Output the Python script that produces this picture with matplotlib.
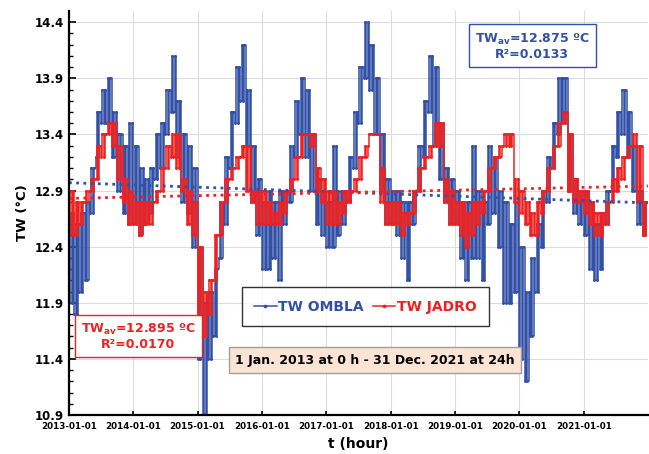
import matplotlib
matplotlib.use('Agg')
import matplotlib.pyplot as plt
import matplotlib.dates as mdates
import numpy as np
import pandas as pd

# monthly low / high readings (Jan 2013 .. Dec 2021), deg C
ombla_lo = [11.9, 11.8, 12.0, 12.1, 12.7, 13.2, 13.5, 13.5, 13.2, 12.9, 12.7, 12.6,
            12.6, 12.5, 12.6, 12.7, 13.0, 13.1, 13.4, 13.6, 13.2, 12.8, 12.7, 12.4,
            11.4, 10.9, 11.4, 11.6, 12.3, 12.6, 13.1, 13.5, 13.7, 13.3, 12.8, 12.5,
            12.2, 12.2, 12.3, 12.1, 12.6, 12.8, 13.2, 13.4, 13.2, 12.9, 12.6, 12.5,
            12.4, 12.4, 12.5, 12.6, 12.8, 13.1, 13.5, 13.9, 13.8, 13.4, 12.9, 12.6,
            12.6, 12.5, 12.3, 12.1, 12.6, 12.9, 13.2, 13.6, 13.3, 13.0, 12.8, 12.6,
            12.6, 12.3, 12.1, 12.3, 12.3, 12.1, 12.6, 12.7, 12.4, 11.9, 11.9, 12.0,
            11.4, 11.2, 11.6, 12.0, 12.4, 12.8, 13.1, 13.4, 13.5, 12.9, 12.7, 12.6,
            12.5, 12.2, 12.1, 12.2, 12.6, 12.9, 13.2, 13.4, 13.2, 12.9, 12.6, 12.5]
ombla_hi = [12.7, 12.6, 12.7, 12.8, 13.1, 13.6, 13.8, 13.9, 13.6, 13.4, 13.3, 13.5,
            13.3, 13.1, 13.0, 13.1, 13.4, 13.5, 13.8, 14.1, 13.7, 13.4, 13.3, 13.1,
            12.4, 11.9, 12.0, 12.2, 12.8, 13.2, 13.6, 14.0, 14.2, 13.8, 13.3, 13.0,
            12.8, 12.9, 12.8, 12.9, 12.9, 13.3, 13.7, 13.9, 13.8, 13.4, 13.0, 12.9,
            12.8, 13.3, 12.9, 12.9, 13.2, 13.6, 14.0, 14.4, 14.2, 13.9, 13.4, 13.0,
            12.9, 12.9, 12.8, 12.8, 12.9, 13.3, 13.7, 14.1, 14.0, 13.5, 13.1, 13.0,
            12.9, 12.8, 12.8, 13.3, 12.9, 12.8, 13.3, 13.2, 12.9, 12.8, 12.6, 12.8,
            12.4, 12.0, 12.3, 12.6, 12.9, 13.2, 13.5, 13.9, 13.9, 13.4, 13.0, 12.9,
            12.9, 12.8, 12.6, 12.7, 12.9, 13.3, 13.6, 13.8, 13.6, 13.3, 12.9, 12.8]
jadro_lo = [12.5, 12.5, 12.6, 12.8, 12.9, 13.0, 13.2, 13.4, 13.3, 13.0, 12.8, 12.6,
            12.6, 12.5, 12.6, 12.6, 12.8, 12.9, 13.1, 13.2, 13.1, 12.9, 12.6, 12.5,
            11.7, 11.6, 11.8, 12.1, 12.5, 12.8, 13.0, 13.1, 13.2, 12.9, 12.8, 12.6,
            12.6, 12.6, 12.6, 12.6, 12.7, 12.9, 13.0, 13.2, 13.4, 13.3, 12.9, 12.8,
            12.6, 12.6, 12.6, 12.7, 12.8, 12.9, 13.0, 13.2, 13.4, 13.4, 12.8, 12.6,
            12.6, 12.6, 12.5, 12.6, 12.7, 12.9, 13.1, 13.2, 13.3, 13.3, 12.8, 12.6,
            12.6, 12.5, 12.4, 12.5, 12.6, 12.7, 12.9, 13.1, 13.2, 13.3, 13.3, 12.8,
            12.7, 12.6, 12.5, 12.5, 12.7, 12.9, 13.1, 13.3, 13.5, 12.9, 12.8, 12.8,
            12.7, 12.6, 12.5, 12.5, 12.6, 12.8, 12.9, 13.0, 13.2, 13.3, 12.8, 12.5]
jadro_hi = [12.9, 12.8, 12.8, 12.9, 13.0, 13.3, 13.4, 13.5, 13.5, 13.3, 13.0, 12.9,
            12.8, 12.8, 12.8, 12.8, 12.9, 13.1, 13.3, 13.4, 13.4, 13.0, 12.9, 12.8,
            12.4, 12.0, 12.1, 12.5, 12.8, 13.0, 13.1, 13.2, 13.3, 13.3, 12.9, 12.9,
            12.9, 12.8, 12.7, 12.8, 12.9, 13.0, 13.2, 13.4, 13.4, 13.4, 13.1, 13.0,
            12.9, 12.9, 12.8, 12.9, 12.9, 13.0, 13.2, 13.3, 13.4, 13.4, 13.1, 12.8,
            12.8, 12.8, 12.7, 12.7, 12.9, 13.1, 13.2, 13.3, 13.5, 13.5, 13.0, 12.9,
            12.8, 12.8, 12.7, 12.8, 12.8, 12.9, 13.1, 13.2, 13.3, 13.4, 13.4, 13.0,
            12.9, 12.8, 12.7, 12.8, 12.9, 13.1, 13.3, 13.5, 13.6, 13.4, 13.0, 12.9,
            12.9, 12.8, 12.7, 12.7, 12.8, 13.0, 13.1, 13.2, 13.3, 13.4, 13.3, 12.8]

trend_dates = ['2013-01-01', '2021-12-31']
ombla_trend = [12.97, 12.79]
jadro_trend = [12.83, 12.94]

year_ticks = [str(y) + '-01-01' for y in range(2013, 2022)]
y_ticks = [10.9, 11.4, 11.9, 12.4, 12.9, 13.4, 13.9, 14.4]

BLUE = '#3150a6'
RED = '#ee2020'

# each month's readings swing between its low and high, shown 4x a month
months = pd.date_range('2013-01-01', periods=len(ombla_lo), freq='MS')
offsets = [0, 7, 15, 22]
t = np.array([m + pd.Timedelta(days=d) for m in months for d in offsets])


def swing(lo, hi):
    return np.array([v for a, b in zip(lo, hi) for v in (a, b, a, b)])


fig = plt.figure(figsize=(6.49, 4.54), dpi=100)
ax = fig.add_axes([0.1063, 0.0859, 0.8922, 0.8899])

ax.plot(t, swing(ombla_lo, ombla_hi), drawstyle='steps-post', color=BLUE,
        lw=1.1, marker='.', ms=2.2, label='TW OMBLA')
ax.plot(t, swing(jadro_lo, jadro_hi), drawstyle='steps-post', color=RED,
        lw=1.1, marker='.', ms=2.2, label='TW JADRO')

td = pd.to_datetime(trend_dates)
ax.plot(td, ombla_trend, ls=(0, (1, 1.6)), color=BLUE, lw=2)
ax.plot(td, jadro_trend, ls=(0, (1, 1.6)), color=RED, lw=2)

ax.set_xlim(pd.Timestamp('2013-01-01'), pd.Timestamp('2022-01-01'))
ax.set_ylim(10.9, 14.5)
ax.set_xticks(pd.to_datetime(year_ticks))
ax.xaxis.set_major_formatter(mdates.DateFormatter('%Y-%m-%d'))
ax.set_yticks(y_ticks)
ax.set_yticks(np.arange(10.9, 14.45, 0.1), minor=True)
ax.tick_params(axis='y', which='major', direction='in', length=5, width=1.2,
               labelsize=8.5)
ax.tick_params(axis='y', which='minor', direction='in', length=3, width=1)
ax.tick_params(axis='x', direction='in', length=3, width=1.2, labelsize=6.3, pad=5)
for lab in ax.get_xticklabels() + ax.get_yticklabels():
    lab.set_fontweight('bold')

ax.grid(True, which='major', color='#dcdcdc', lw=0.8)
ax.set_axisbelow(True)
for s in ['top', 'right']:
    ax.spines[s].set_visible(False)
for s in ['left', 'bottom']:
    ax.spines[s].set_linewidth(1.6)

ax.set_ylabel('TW (°C)', fontsize=9.5, fontweight='bold', labelpad=4)
ax.set_xlabel('t (hour)', fontsize=10, fontweight='bold', labelpad=4)

leg = ax.legend(ncol=2, loc='center', bbox_to_anchor=(0.512, 0.268),
                frameon=True, fancybox=False, edgecolor='black',
                prop={'weight': 'bold', 'size': 10}, labelcolor='linecolor',
                handlelength=1.6, handletextpad=0.1, columnspacing=0.7,
                borderpad=0.9, borderaxespad=0, markerscale=1.5)
leg.get_frame().set_linewidth(1.0)

ax.text(0.5285, 0.136, '1 Jan. 2013 at 0 h - 31 Dec. 2021 at 24h',
        transform=ax.transAxes, ha='center', va='center', fontsize=9,
        fontweight='bold',
        bbox=dict(boxstyle='square,pad=0.5', fc='#fbe4d5', ec='#a0a0a0', lw=1))

ax.text(0.80, 0.913, 'TW$_{\\mathbf{av}}$=12.875 ºC\nR²=0.0133',
        transform=ax.transAxes, ha='center', va='center', fontsize=9,
        fontweight='bold', color=BLUE, linespacing=1.1,
        bbox=dict(boxstyle='square,pad=0.5', fc='white', ec=BLUE, lw=1))
ax.text(0.12, 0.194, 'TW$_{\\mathbf{av}}$=12.895 ºC\nR²=0.0170',
        transform=ax.transAxes, ha='center', va='center', fontsize=9,
        fontweight='bold', color=RED, linespacing=1.1,
        bbox=dict(boxstyle='square,pad=0.5', fc='white', ec=RED, lw=1))

fig.savefig('out.png', dpi=100)
